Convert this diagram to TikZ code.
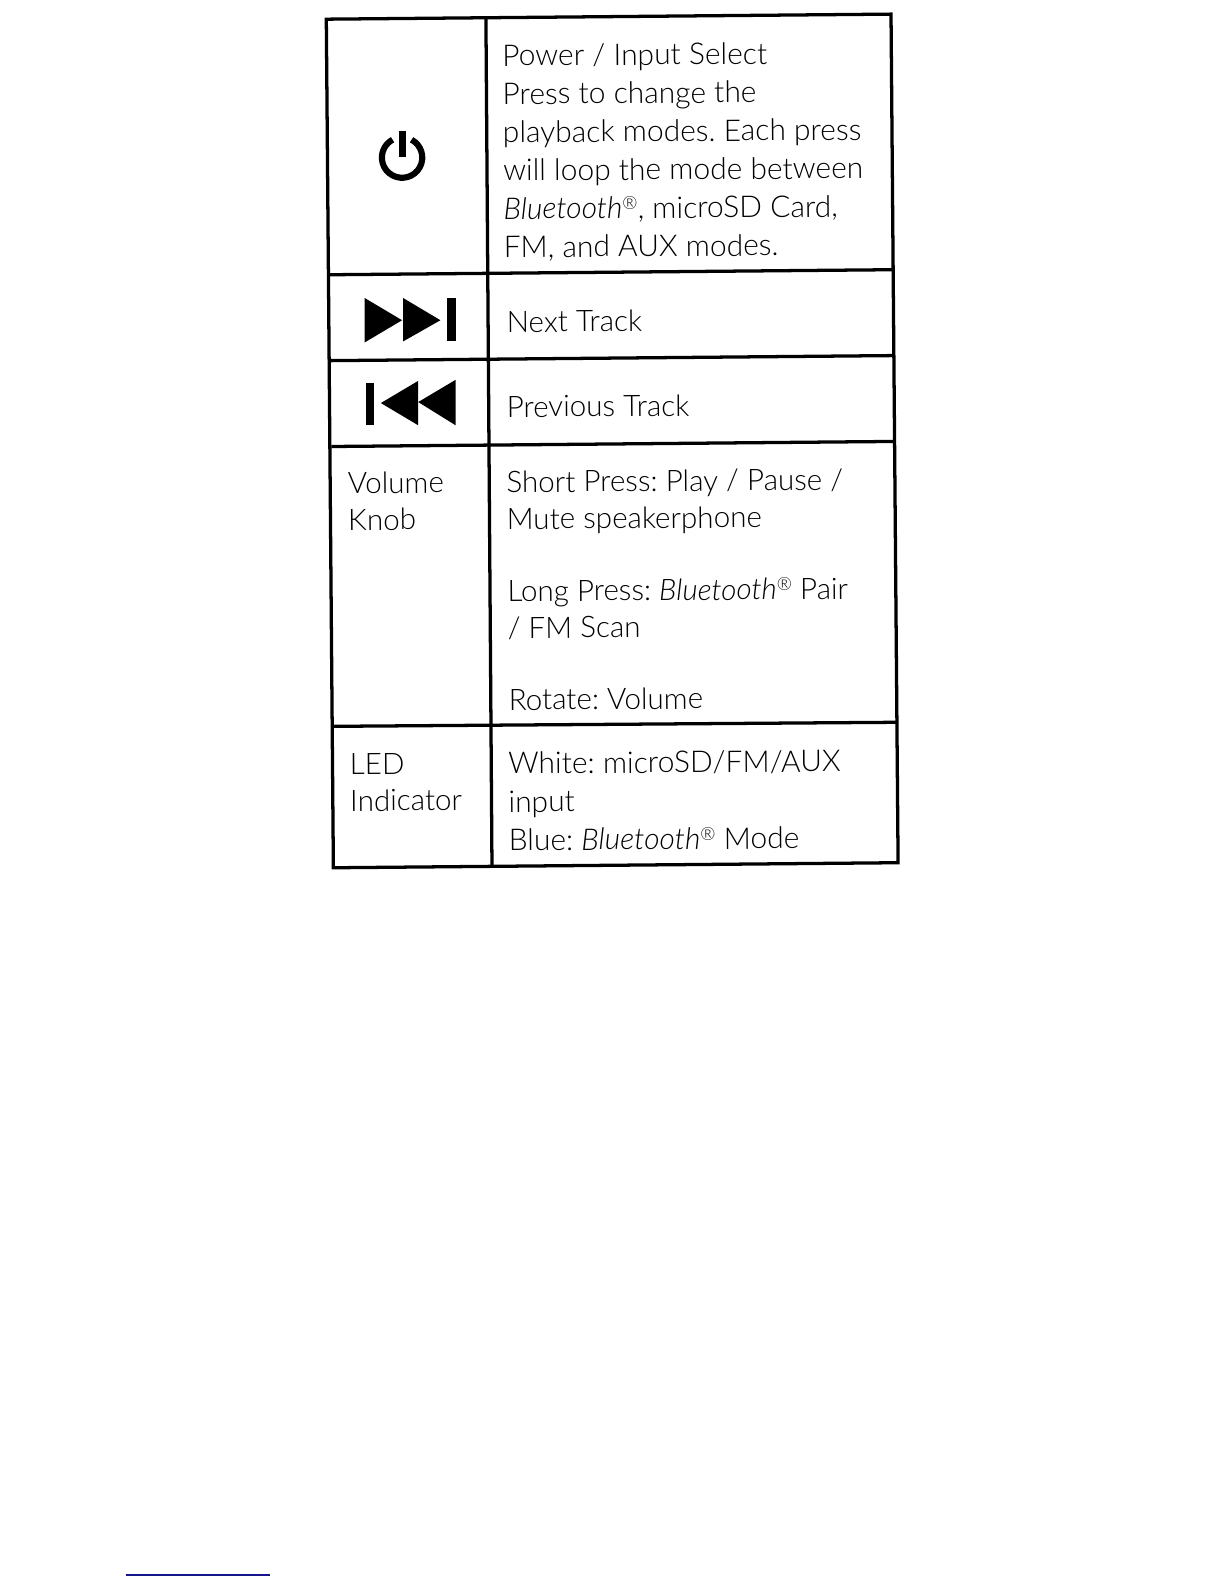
\documentclass[tikz,border=0pt]{standalone}
\usepackage{fontspec}
\setmainfont{Lato Light}[ItalicFont={Lato Light Italic}]
\frenchspacing
\usepackage{tikz}
\usetikzlibrary{positioning}
\definecolor{linkblue}{RGB}{20,20,140}
\newcommand{\btmark}{\textit{Bluetooth}\raisebox{0.62ex}{\fontsize{5.2}{5.2}\selectfont ®}}
\tikzset{
  rule/.style={black, line width=0.33mm},
  label/.style={anchor=base west, inner sep=0pt, rotate=0.4, align=left, text=black,
    font=\fontsize{8.5}{10.6}\selectfont},
  widelabel/.style={label, font=\fontsize{8.6}{11}\selectfont},
  symbolfill/.style={fill=black, draw=none}
}

\begin{document}
\begin{tikzpicture}[x=0.0102cm, y=-0.0102cm]
\useasboundingbox (0,0) rectangle (1212,1568);
% corners of the table
\coordinate (a1) at (323,19);
\coordinate (a2) at (481,17);
\coordinate (a3) at (882,14);
\coordinate (b1) at (325,272);
\coordinate (b2) at (483,270);
\coordinate (b3) at (883,267);
\coordinate (c1) at (327,357);
\coordinate (c2) at (484,355);
\coordinate (c3) at (884,352);
\coordinate (d1) at (328,442);
\coordinate (d2) at (485,439);
\coordinate (d3) at (885,437);
\coordinate (e1) at (329,719);
\coordinate (e2) at (486,717);
\coordinate (e3) at (887,715);
\coordinate (f1) at (330,859);
\coordinate (f2) at (487,857);
\coordinate (f3) at (889,854);
\draw[rule] (a1) -- (a3) -- (f3) -- (f1) -- cycle;
\draw[rule] (a2) -- (f2);
\draw[rule] (b1) -- (b3);
\draw[rule] (c1) -- (c3);
\draw[rule] (d1) -- (d3);
\draw[rule] (e1) -- (e3);
% power symbol
\draw[black, line width=0.62mm] (398,156) ++(-62:20) arc (-62:242:20);
\draw[black, line width=0.7mm] (398,130) -- (398,155);
% next track
\fill[symbolfill] (361,295) -- (398,317) -- (361,339) -- cycle;
\fill[symbolfill] (399,295) -- (436,317) -- (399,338) -- cycle;
\fill[symbolfill] (442,295) rectangle (451,338);
% previous track
\fill[symbolfill] (362,379) rectangle (370,421);
\fill[symbolfill] (414,377) -- (377,399) -- (414,421) -- cycle;
\fill[symbolfill] (451,376) -- (414,398) -- (451,421) -- cycle;
% labels
\node[widelabel] (power) at (498,255) {Power / Input Select\\Press to change the\\playback modes. Each press\\will loop the mode between\\\btmark, microSD Card,\\FM, and AUX modes.};
\node[label] (next) at (501,329) {Next Track};
\node[label] (previous) at (501,413) {Previous Track};
\node[label] (volume) at (344,525) {Volume\\Knob};
\node[label] (short) at (501,524) {Short Press: Play / Pause /\\Mute speakerphone};
\node[label] (long) at (502,632) {Long Press: \btmark\ Pair\\/ FM Scan};
\node[label] (rotate) at (503,703) {Rotate: Volume};
\node[label] (led) at (346,803) {LED\\Indicator};
\node[widelabel] (white) at (503,842) {White: microSD/FM/AUX\\input\\Blue: \btmark\ Mode};
% link under the page
\coordinate (linkstart) at (125,1559);
\coordinate (linkend) at (267,1559);
\draw[linkblue, line width=0.2mm] (linkstart) -- (linkend);
\end{tikzpicture}
\end{document}
